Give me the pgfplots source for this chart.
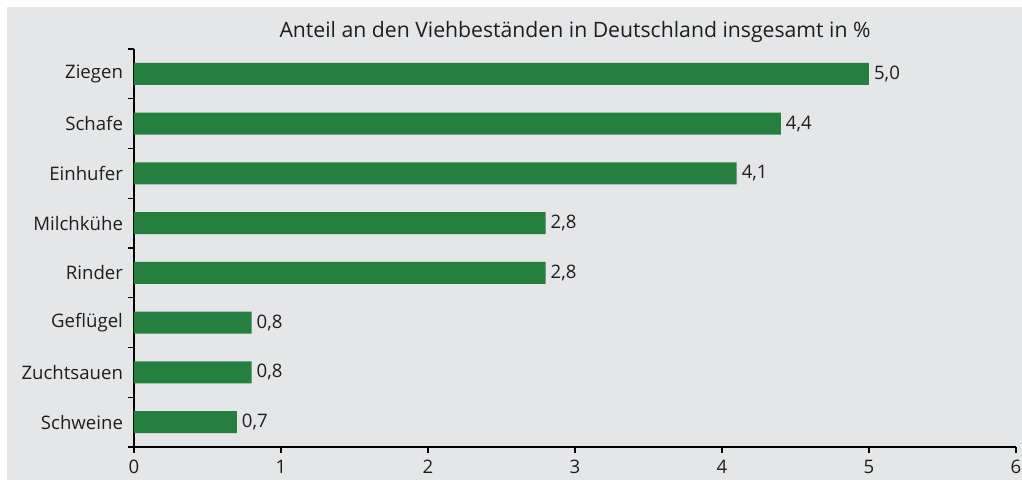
\documentclass[border=0pt]{standalone}
\usepackage{pgfplots}
\pgfplotsset{compat=1.18}
\usepackage{fontspec}
\setmainfont{Open Sans}
\definecolor{bggray}{RGB}{229,230,232}
\definecolor{bargreen}{RGB}{37,128,64}
\definecolor{txt}{RGB}{30,30,30}
\begin{document}
\begin{tikzpicture}[x=1pt,y=1pt]
\useasboundingbox (-67,-16.5) rectangle (444,223.5);
\fill[white] (-67,-16.5) rectangle (444,223.5);
\fill[bggray] (-63.5,-16.5) rectangle (444,220);
\begin{axis}[
  at={(0,0)}, anchor=south west,
  scale only axis,
  width=441pt, height=199pt,
  xbar, bar width=11pt,
  xmin=0, xmax=6,
  ymin=-0.5, ymax=7.5,
  axis x line*=bottom, axis y line*=left,
  axis line style={black, line width=0.6pt},
  tick align=outside,
  xtick={0,1,2,3,4,5,6},
  ytick={0,1,2,3,4,5,6,7},
  yticklabels={Schweine,Zuchtsauen,Geflügel,Rinder,Milchkühe,Einhufer,Schafe,Ziegen},
  minor ytick={-0.5,0.5,...,7.5},
  major y tick style={draw=none},
  minor tick length=3pt,
  major tick length=3pt,
  tick style={black, line width=0.6pt},
  ticklabel style={font=\fontsize{9.3}{11}\selectfont, text=txt},
  /pgf/number format/assume math mode=true,
  yticklabel style={xshift=1pt},
  nodes near coords,
  nodes near coords style={font=\fontsize{9.3}{11}\selectfont, text=txt, /pgf/number format/fixed, /pgf/number format/fixed zerofill, /pgf/number format/precision=1, /pgf/number format/use comma, /pgf/number format/assume math mode=true},
  every node near coord/.append style={anchor=west, xshift=-1pt},
  clip=false,
]
\addplot[fill=bargreen, draw=none] coordinates {
(0.7,0) (0.8,1) (0.8,2) (2.8,3) (2.8,4) (4.1,5) (4.4,6) (5.0,7)
};
\node[anchor=base, font=\fontsize{10.6}{12}\selectfont, text=txt, yshift=5.5pt] at (rel axis cs:0.5,1) {Anteil an den Viehbeständen in Deutschland insgesamt in \%};
\end{axis}
\end{tikzpicture}
\end{document}
